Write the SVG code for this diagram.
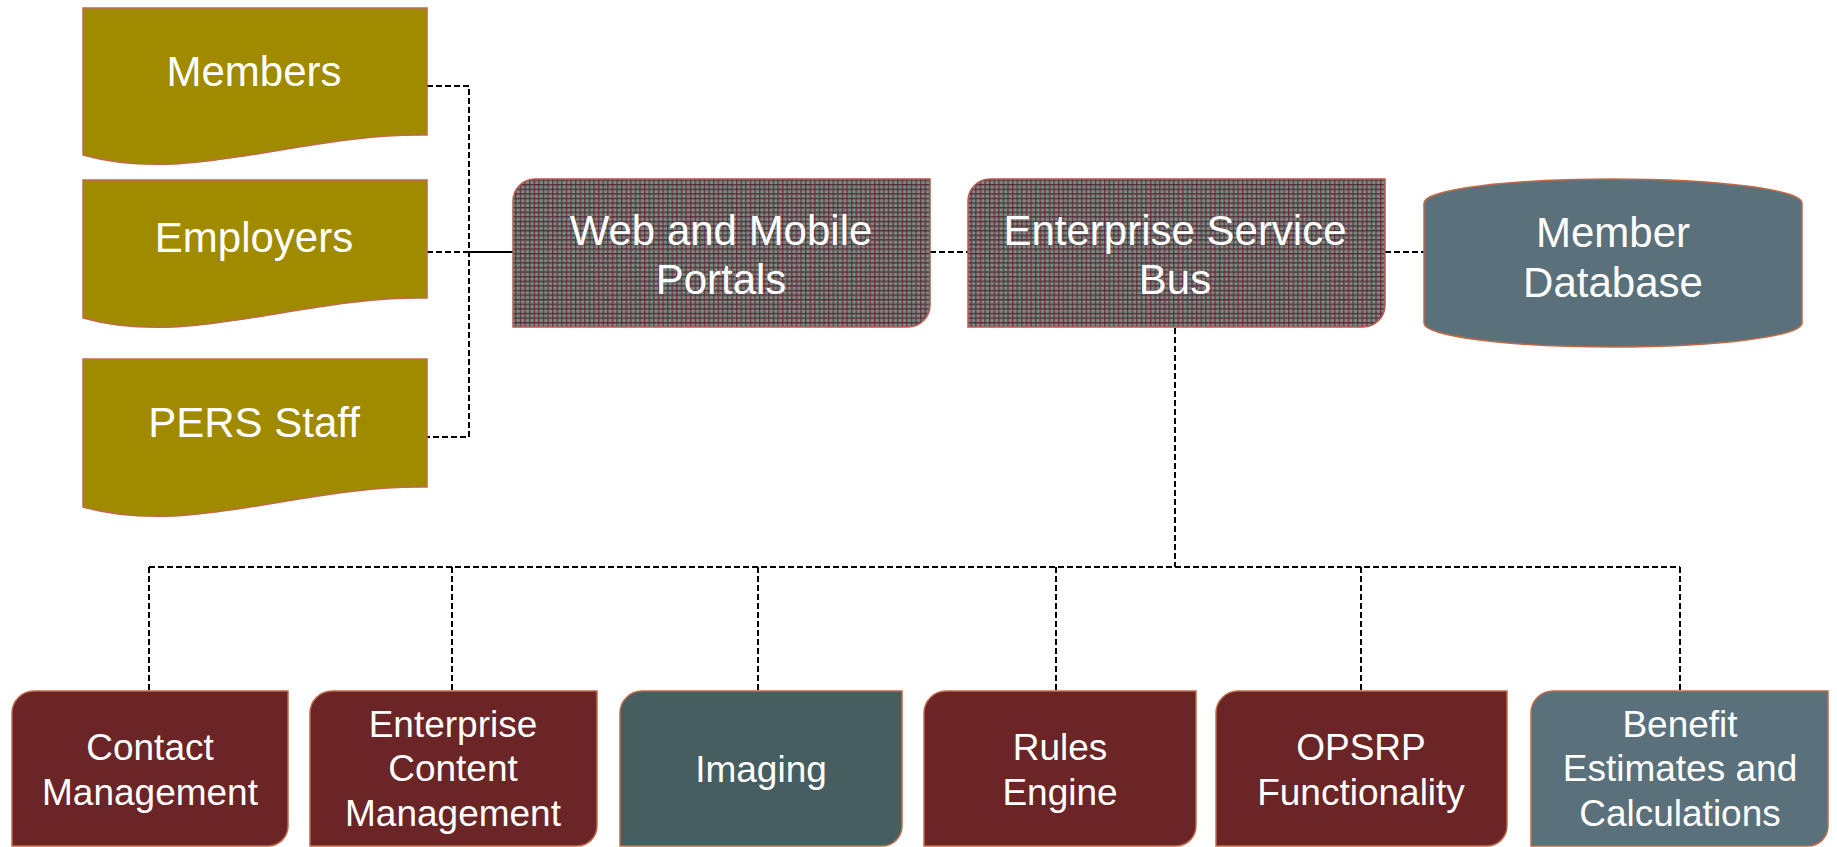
<svg xmlns="http://www.w3.org/2000/svg" width="1837" height="847" viewBox="0 0 1837 847">
<style>
  .txt { font-family: "Liberation Sans", Arial, sans-serif; fill: #ffffff; text-anchor: middle; }
  .big { font-size: 42px; }
  .small { font-size: 37px; }
  .olive { fill: #a08a00; stroke: #c06a48; stroke-width: 1.5; }
  .plaid { fill: url(#plaid); stroke: #b85a50; stroke-width: 1.5; }
  .red { fill: #6b2527; stroke: #c06a48; stroke-width: 1.5; }
  .teal { fill: #465e5f; stroke: #c06a48; stroke-width: 1.5; }
  .slate { fill: #5a717b; stroke: #c06a48; stroke-width: 1.5; }
  .dash { fill: none; stroke: #000; stroke-width: 2; stroke-dasharray: 6 3; }
  .solid { fill: none; stroke: #000; stroke-width: 2; }
</style>
<defs>
  <pattern id="plaid" width="4.6" height="4.6" patternUnits="userSpaceOnUse">
    <rect width="4.6" height="4.6" fill="#748e84"/>
    <rect x="0" y="0" width="1.3" height="4.6" fill="#7c2c3e"/>
    <rect x="0" y="0" width="4.6" height="1.4" fill="#4a2a34" opacity="0.9"/>
  </pattern>
</defs>
<rect width="1837" height="847" fill="#ffffff"/>

<g id="connectors">
  <path class="dash" d="M427,86 H469 V437 H427"/>
  <path class="dash" d="M427,252 H469"/>
  <path class="solid" d="M469,252 H513"/>
  <path class="dash" d="M930,252 H968"/>
  <path class="dash" d="M1385,252 H1424"/>
  <path class="dash" d="M1175,328 V567"/>
  <path class="dash" d="M149,567 H1680"/>
  <path class="dash" d="M149,567 V691"/>
  <path class="dash" d="M452,567 V691"/>
  <path class="dash" d="M758,567 V691"/>
  <path class="dash" d="M1056,567 V691"/>
  <path class="dash" d="M1361,567 V691"/>
  <path class="dash" d="M1680,567 V691"/>
</g>

<g id="members">
  <path class="olive" d="M83,8 H427 V135 C300,133 190,185 83,155 Z"/>
  <text class="txt big" x="254" y="86">Members</text>
</g>
<g id="employers">
  <path class="olive" d="M83,180 H427 V298 C300,296 190,348 83,318 Z"/>
  <text class="txt big" x="254" y="252">Employers</text>
</g>
<g id="pers-staff">
  <path class="olive" d="M83,359 H427 V487 C300,485 190,537 83,507 Z"/>
  <text class="txt big" x="254" y="437">PERS Staff</text>
</g>

<g id="web-portals">
  <path class="plaid" d="M535,179 H930 V305 A22,22 0 0 1 908,327 H513 V201 A22,22 0 0 1 535,179 Z"/>
  <text class="txt big" x="721" y="245">Web and Mobile</text>
  <text class="txt big" x="721" y="294">Portals</text>
</g>

<g id="esb">
  <path class="plaid" d="M990,179 H1385 V305 A22,22 0 0 1 1363,327 H968 V201 A22,22 0 0 1 990,179 Z"/>
  <text class="txt big" x="1175" y="245">Enterprise Service</text>
  <text class="txt big" x="1175" y="294">Bus</text>
</g>

<g id="member-database">
  <path class="slate" d="M1424,203 A189,24 0 0 1 1802,203 V323 A189,24 0 0 1 1424,323 Z"/>
  <text class="txt big" x="1613" y="247">Member</text>
  <text class="txt big" x="1613" y="297">Database</text>
</g>

<g id="contact-management">
  <path class="red" d="M34,691 H288 V826 A20,20 0 0 1 268,846 H12 V713 A22,22 0 0 1 34,691 Z"/>
  <text class="txt small" x="150" y="760">Contact</text>
  <text class="txt small" x="150" y="805">Management</text>
</g>

<g id="ecm">
  <path class="red" d="M332,691 H597 V826 A20,20 0 0 1 577,846 H310 V713 A22,22 0 0 1 332,691 Z"/>
  <text class="txt small" x="453" y="737">Enterprise</text>
  <text class="txt small" x="453" y="781">Content</text>
  <text class="txt small" x="453" y="826">Management</text>
</g>

<g id="imaging">
  <path class="teal" d="M642,691 H902 V826 A20,20 0 0 1 882,846 H620 V713 A22,22 0 0 1 642,691 Z"/>
  <text class="txt small" x="761" y="782">Imaging</text>
</g>

<g id="rules-engine">
  <path class="red" d="M946,691 H1196 V826 A20,20 0 0 1 1176,846 H924 V713 A22,22 0 0 1 946,691 Z"/>
  <text class="txt small" x="1060" y="760">Rules</text>
  <text class="txt small" x="1060" y="805">Engine</text>
</g>

<g id="opsrp">
  <path class="red" d="M1238,691 H1507 V826 A20,20 0 0 1 1487,846 H1216 V713 A22,22 0 0 1 1238,691 Z"/>
  <text class="txt small" x="1361" y="760">OPSRP</text>
  <text class="txt small" x="1361" y="805">Functionality</text>
</g>

<g id="benefit-estimates">
  <path class="slate" d="M1553,691 H1828 V826 A20,20 0 0 1 1808,846 H1531 V713 A22,22 0 0 1 1553,691 Z"/>
  <text class="txt small" x="1680" y="737">Benefit</text>
  <text class="txt small" x="1680" y="781">Estimates and</text>
  <text class="txt small" x="1680" y="826">Calculations</text>
</g>
</svg>
